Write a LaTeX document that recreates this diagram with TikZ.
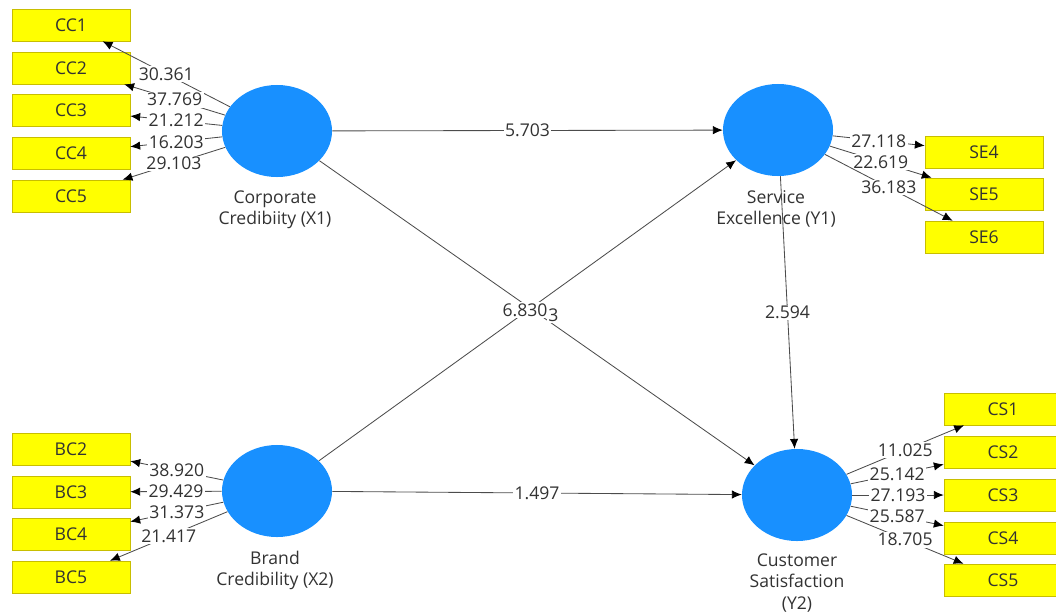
\documentclass[tikz,border=0pt]{standalone}
\usepackage{fontspec}
\setmainfont{Open Sans}
\usepackage{xcolor}
\usetikzlibrary{arrows.meta}
\usetikzlibrary{shapes.geometric}
\definecolor{lvblue}{RGB}{24,144,255}
\definecolor{mvyellow}{RGB}{255,255,0}
\definecolor{mvedge}{RGB}{200,190,0}
\definecolor{txtgray}{RGB}{50,50,50}

\tikzset{
  latent/.style={ellipse, fill=lvblue, minimum width=2.75cm, minimum height=2.3cm, inner sep=0pt},
  indbox/.style={rectangle, draw=mvedge, fill=mvyellow, minimum width=2.95cm, minimum height=0.8cm, inner sep=0pt, text=txtgray},
  lvname/.style={align=center, text=txtgray, font=\fontsize{12.5}{15}\selectfont},
  lbl/.style={fill=white, inner sep=1pt, text=txtgray, font=\fontsize{12.5}{14}\selectfont},
  relarrow/.style={draw=black!70, line width=0.6pt, -{Latex[length=7pt,width=6pt,color=black]}}
}

\begin{document}
\begin{tikzpicture}[x=0.025cm, y=-0.025cm, font=\fontsize{12.5}{14}\selectfont]
    \useasboundingbox (0,0) rectangle (1056,612);

    % latent variables
    \node[latent] (X1) at (277,131) {};
    \node[latent] (Y1) at (778,130) {};
    \node[latent] (X2) at (277,491) {};
    \node[latent] (Y2) at (797,495) {};

    \node[lvname] (X1name) at (275,210) {Corporate\\Credibiity (X1)};
    \node[lvname] (Y1name) at (776,209) {Service\\Excellence (Y1)};
    \node[lvname] (X2name) at (275,570) {Brand\\Credibility (X2)};
    \node[lvname] (Y2name) at (797,583) {Customer\\Satisfaction\\(Y2)};

    % indicators
    \foreach \name/\y in {CC1/25, CC2/68, CC3/110, CC4/153, CC5/196,
                          BC2/449, BC3/492, BC4/534, BC5/577}
        \node[indbox] (\name) at (71,\y) {\name};
    \foreach \name/\y in {SE4/152, SE5/194, SE6/237}
        \node[indbox] (\name) at (984,\y) {\name};
    \foreach \name/\y in {CS1/409, CS2/452, CS3/495, CS4/538, CS5/580}
        \node[indbox] (\name) at (1003,\y) {\name};

    % outer loadings
    \foreach \name/\val in {CC1/30.361, CC2/37.769, CC3/21.212, CC4/16.203, CC5/29.103}
        \draw[relarrow] (X1) -- (\name) node[midway, lbl] {\val};
    \foreach \name/\val in {BC2/38.920, BC3/29.429, BC4/31.373, BC5/21.417}
        \draw[relarrow] (X2) -- (\name) node[midway, lbl] {\val};
    \foreach \name/\val in {SE4/27.118, SE5/22.619, SE6/36.183}
        \draw[relarrow] (Y1) -- (\name) node[midway, lbl] {\val};
    \foreach \name/\val in {CS1/11.025, CS2/25.142, CS3/27.193, CS4/25.587, CS5/18.705}
        \draw[relarrow] (Y2) -- (\name) node[midway, lbl] {\val};

    % inner model
    \draw[relarrow] (X1) -- (Y1) node[midway, lbl] {5.703};
    \draw[relarrow] (X2) -- (Y2) node[midway, lbl] {1.497};
    \draw[relarrow] (Y1) -- (Y2) node[midway, lbl] {2.594};
    \draw[relarrow] (X1) -- (Y2);
    \draw[relarrow] (X2) -- (Y1);
    \node[lbl, anchor=east] (hidden) at (560,315) {3};
    \node[lbl] (cross) at (525,310) {6.830};
\end{tikzpicture}
\end{document}
